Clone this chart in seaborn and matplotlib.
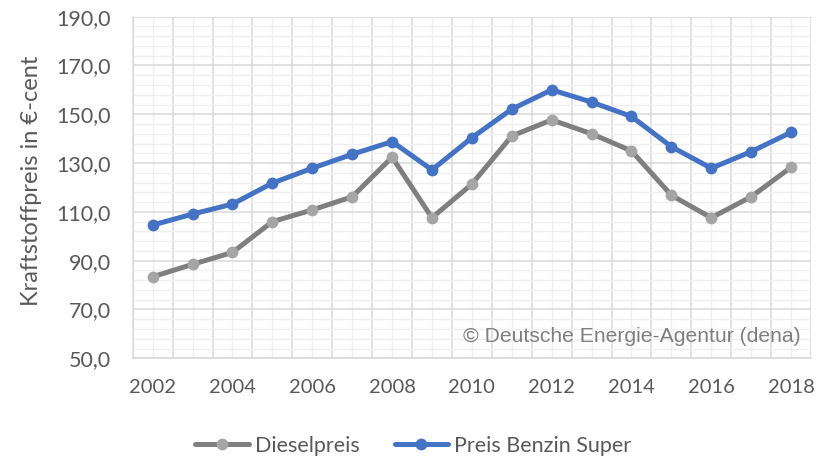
import matplotlib
matplotlib.use("Agg")
import matplotlib.pyplot as plt
import seaborn as sns
import pandas as pd
import numpy as np
from matplotlib.ticker import FuncFormatter, FixedLocator

years = list(range(2002, 2019))
diesel = [83.4, 88.5, 93.4, 106.0, 110.8, 116.2, 132.4, 107.6, 121.4, 141.1,
          147.7, 142.0, 135.0, 116.8, 107.6, 116.2, 128.3]
benzin = [104.6, 109.1, 113.2, 121.8, 127.9, 133.6, 138.8, 127.2, 140.4, 152.1,
          160.0, 155.0, 149.1, 136.7, 127.9, 134.7, 142.6]
series_names = ["Dieselpreis", "Preis Benzin Super"]
y_ticks = [50, 70, 90, 110, 130, 150, 170, 190]
y_label = "Kraftstoffpreis in €-cent"
watermark = "© Deutsche Energie-Agentur (dena)"

df = pd.DataFrame({
    "Jahr": years * 2,
    "Preis": diesel + benzin,
    "Serie": [series_names[0]] * len(years) + [series_names[1]] * len(years),
})

sns.set_theme(style="white")
plt.rcParams["font.family"] = ["Lato", "DejaVu Sans"]

text_color = "#595959"
fig = plt.figure(figsize=(8.27, 4.57), dpi=100)
ax = fig.add_axes([0.1605, 0.216, 0.8202, 0.7475])

styles = {
    series_names[0]: dict(color="#7f7f7f", mfc="#a5a5a5"),
    series_names[1]: dict(color="#4472c4", mfc="#4472c4"),
}
for name in series_names:
    sub = df[df["Serie"] == name]
    st = styles[name]
    sns.lineplot(data=sub, x="Jahr", y="Preis", ax=ax, color=st["color"],
                 linewidth=3.6, marker="o", markersize=8.5,
                 markerfacecolor=st["mfc"], markeredgecolor=st["mfc"],
                 markeredgewidth=0, label=name, zorder=3)

ax.set_xlim(years[0] - 0.5, years[-1] + 0.5)
ax.set_ylim(y_ticks[0], y_ticks[-1])

# x: major ticks at category boundaries (gridlines), minor at categories (labels)
bounds = [y - 0.5 for y in years] + [years[-1] + 0.5]
ax.xaxis.set_major_locator(FixedLocator(bounds))
ax.xaxis.set_minor_locator(FixedLocator(years))
ax.set_xticklabels([""] * len(bounds))
ax.set_xticklabels([str(y) if y % 2 == 0 else "" for y in years], minor=True)

ax.yaxis.set_major_locator(FixedLocator(y_ticks))
ax.yaxis.set_minor_locator(FixedLocator(np.arange(y_ticks[0], y_ticks[-1] + 1, 4)))
ax.yaxis.set_major_formatter(FuncFormatter(lambda v, p: f"{v:.1f}".replace(".", ",")))

ax.grid(which="major", color="#d9d9d9", linewidth=1.1, zorder=0)
ax.grid(which="minor", color="#efefef", linewidth=1.0, zorder=0)
ax.set_axisbelow(True)

ax.tick_params(axis="both", which="both", length=0, colors=text_color)
ax.tick_params(axis="x", which="minor", labelsize=14.5, pad=15)
ax.tick_params(axis="y", which="major", labelsize=15.5, pad=16)

for s in ["top", "right"]:
    ax.spines[s].set_visible(False)
for s in ["left", "bottom"]:
    ax.spines[s].set_color("#d9d9d9")
    ax.spines[s].set_linewidth(1.1)

ax.set_xlabel("")
ax.set_ylabel(y_label, fontsize=17, color=text_color)
ax.yaxis.set_label_coords(-0.134, 0.52)

ax.text(0.984, 0.035, watermark, transform=ax.transAxes, ha="right", va="bottom",
        fontsize=15.2, color="#7f7f7f", family=["Liberation Sans", "DejaVu Sans"],
        zorder=4)

if ax.legend_:
    ax.legend_.remove()
handles, labels = ax.get_legend_handles_labels()
fig.legend(handles, labels, loc="center", bbox_to_anchor=(0.5, 0.024), ncol=2,
           frameon=False, fontsize=15.5, handlelength=2.5, columnspacing=1.6,
           handletextpad=0.28, labelcolor=text_color)

fig.savefig("out.png", dpi=100)
